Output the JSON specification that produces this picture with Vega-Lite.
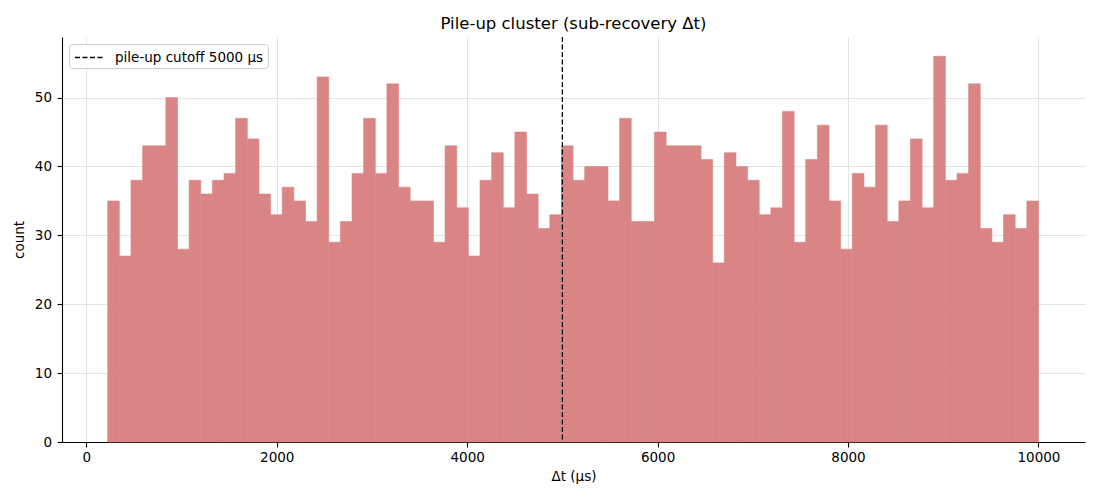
{
  "$schema": "https://vega.github.io/schema/vega-lite/v6.json",
  "width": 1023,
  "height": 405,
  "autosize": {"type": "none"},
  "padding": {"left": 62, "top": 37, "right": 15, "bottom": 58},
  "background": "white",
  "title": {"text": "Pile-up cluster (sub-recovery Δt)", "fontSize": 16.5, "font": "DejaVu Sans", "fontWeight": "normal", "color": "black", "offset": 4, "anchor": "middle"},
  "config": {
    "view": {"stroke": null},
    "font": "DejaVu Sans",
    "axis": {
      "domainColor": "black", "domainWidth": 1.1,
      "tickColor": "black", "tickWidth": 1.1, "tickSize": 5,
      "labelFontSize": 13.5, "labelColor": "black", "labelFont": "DejaVu Sans",
      "titleFontSize": 13.5, "titleFontWeight": "normal", "titleColor": "black", "titleFont": "DejaVu Sans",
      "gridColor": "#b0b0b0", "gridOpacity": 0.35, "gridWidth": 1,
      "zindex": 1
    }
  },
  "layer": [
    {
      "data": {"values": [
        {"x0": 225, "x1": 347.2, "count": 35},
        {"x0": 347.2, "x1": 469.4, "count": 27},
        {"x0": 469.4, "x1": 591.6, "count": 38},
        {"x0": 591.6, "x1": 713.8, "count": 43},
        {"x0": 713.8, "x1": 835.9, "count": 43},
        {"x0": 835.9, "x1": 958.1, "count": 50},
        {"x0": 958.1, "x1": 1080.3, "count": 28},
        {"x0": 1080.3, "x1": 1202.5, "count": 38},
        {"x0": 1202.5, "x1": 1324.7, "count": 36},
        {"x0": 1324.7, "x1": 1446.9, "count": 38},
        {"x0": 1446.9, "x1": 1569.1, "count": 39},
        {"x0": 1569.1, "x1": 1691.3, "count": 47},
        {"x0": 1691.3, "x1": 1813.4, "count": 44},
        {"x0": 1813.4, "x1": 1935.6, "count": 36},
        {"x0": 1935.6, "x1": 2057.8, "count": 33},
        {"x0": 2057.8, "x1": 2180, "count": 37},
        {"x0": 2180, "x1": 2302.2, "count": 35},
        {"x0": 2302.2, "x1": 2424.4, "count": 32},
        {"x0": 2424.4, "x1": 2546.6, "count": 53},
        {"x0": 2546.6, "x1": 2668.8, "count": 29},
        {"x0": 2668.8, "x1": 2790.9, "count": 32},
        {"x0": 2790.9, "x1": 2913.1, "count": 39},
        {"x0": 2913.1, "x1": 3035.3, "count": 47},
        {"x0": 3035.3, "x1": 3157.5, "count": 39},
        {"x0": 3157.5, "x1": 3279.7, "count": 52},
        {"x0": 3279.7, "x1": 3401.9, "count": 37},
        {"x0": 3401.9, "x1": 3524.1, "count": 35},
        {"x0": 3524.1, "x1": 3646.3, "count": 35},
        {"x0": 3646.3, "x1": 3768.4, "count": 29},
        {"x0": 3768.4, "x1": 3890.6, "count": 43},
        {"x0": 3890.6, "x1": 4012.8, "count": 34},
        {"x0": 4012.8, "x1": 4135, "count": 27},
        {"x0": 4135, "x1": 4257.2, "count": 38},
        {"x0": 4257.2, "x1": 4379.4, "count": 42},
        {"x0": 4379.4, "x1": 4501.6, "count": 34},
        {"x0": 4501.6, "x1": 4623.8, "count": 45},
        {"x0": 4623.8, "x1": 4745.9, "count": 36},
        {"x0": 4745.9, "x1": 4868.1, "count": 31},
        {"x0": 4868.1, "x1": 4990.3, "count": 33},
        {"x0": 4990.3, "x1": 5112.5, "count": 43},
        {"x0": 5112.5, "x1": 5234.7, "count": 38},
        {"x0": 5234.7, "x1": 5356.9, "count": 40},
        {"x0": 5356.9, "x1": 5479.1, "count": 40},
        {"x0": 5479.1, "x1": 5601.3, "count": 35},
        {"x0": 5601.3, "x1": 5723.4, "count": 47},
        {"x0": 5723.4, "x1": 5845.6, "count": 32},
        {"x0": 5845.6, "x1": 5967.8, "count": 32},
        {"x0": 5967.8, "x1": 6090, "count": 45},
        {"x0": 6090, "x1": 6212.2, "count": 43},
        {"x0": 6212.2, "x1": 6334.4, "count": 43},
        {"x0": 6334.4, "x1": 6456.6, "count": 43},
        {"x0": 6456.6, "x1": 6578.8, "count": 41},
        {"x0": 6578.8, "x1": 6700.9, "count": 26},
        {"x0": 6700.9, "x1": 6823.1, "count": 42},
        {"x0": 6823.1, "x1": 6945.3, "count": 40},
        {"x0": 6945.3, "x1": 7067.5, "count": 38},
        {"x0": 7067.5, "x1": 7189.7, "count": 33},
        {"x0": 7189.7, "x1": 7311.9, "count": 34},
        {"x0": 7311.9, "x1": 7434.1, "count": 48},
        {"x0": 7434.1, "x1": 7556.3, "count": 29},
        {"x0": 7556.3, "x1": 7678.4, "count": 41},
        {"x0": 7678.4, "x1": 7800.6, "count": 46},
        {"x0": 7800.6, "x1": 7922.8, "count": 35},
        {"x0": 7922.8, "x1": 8045, "count": 28},
        {"x0": 8045, "x1": 8167.2, "count": 39},
        {"x0": 8167.2, "x1": 8289.4, "count": 37},
        {"x0": 8289.4, "x1": 8411.6, "count": 46},
        {"x0": 8411.6, "x1": 8533.8, "count": 32},
        {"x0": 8533.8, "x1": 8655.9, "count": 35},
        {"x0": 8655.9, "x1": 8778.1, "count": 44},
        {"x0": 8778.1, "x1": 8900.3, "count": 34},
        {"x0": 8900.3, "x1": 9022.5, "count": 56},
        {"x0": 9022.5, "x1": 9144.7, "count": 38},
        {"x0": 9144.7, "x1": 9266.9, "count": 39},
        {"x0": 9266.9, "x1": 9389.1, "count": 52},
        {"x0": 9389.1, "x1": 9511.3, "count": 31},
        {"x0": 9511.3, "x1": 9633.4, "count": 29},
        {"x0": 9633.4, "x1": 9755.6, "count": 33},
        {"x0": 9755.6, "x1": 9877.8, "count": 31},
        {"x0": 9877.8, "x1": 10000, "count": 35}
      ]},
      "mark": {"type": "bar", "color": "#d98585", "opacity": 1, "stroke": "#d98585", "strokeWidth": 0.6, "orient": "vertical"},
      "encoding": {
        "x": {"field": "x0", "type": "quantitative", "scale": {"domain": [-255, 10489], "nice": false, "zero": false, "padding": 0},
              "axis": {"title": "Δt (μs)", "values": [0, 2000, 4000, 6000, 8000, 10000], "format": "d", "labelPadding": 3, "titlePadding": 6, "grid": true}},
        "x2": {"field": "x1"},
        "y": {"field": "count", "type": "quantitative", "scale": {"domain": [0, 58.8], "nice": false, "padding": 0},
              "axis": {"title": "count", "values": [0, 10, 20, 30, 40, 50], "labelPadding": 5.5, "titlePadding": 8, "grid": true}},
        "y2": {"datum": 0}
      }
    },
    {
      "data": {"values": [{"x0": 5000, "label": "pile-up cutoff 5000 μs"}]},
      "mark": {"type": "rule", "color": "black", "strokeWidth": 1.3},
      "encoding": {
        "x": {"field": "x0", "type": "quantitative"},
        "strokeDash": {"field": "label", "type": "nominal",
          "scale": {"domain": ["pile-up cutoff 5000 μs"], "range": [[5, 2.5]]},
          "legend": {"title": null, "orient": "none", "legendX": 7, "legendY": 7,
            "strokeColor": "#cccccc", "fillColor": "white", "cornerRadius": 3, "padding": 4,
            "labelFontSize": 13.5, "labelFont": "DejaVu Sans", "labelColor": "black", "labelLimit": 400,
            "symbolType": "M-1.65,0H1.65", "symbolSize": 289, "symbolStrokeColor": "black", "symbolStrokeWidth": 1.3,
            "symbolOffset": 6.5, "labelOffset": 16.5}}
      }
    }
  ]
}
